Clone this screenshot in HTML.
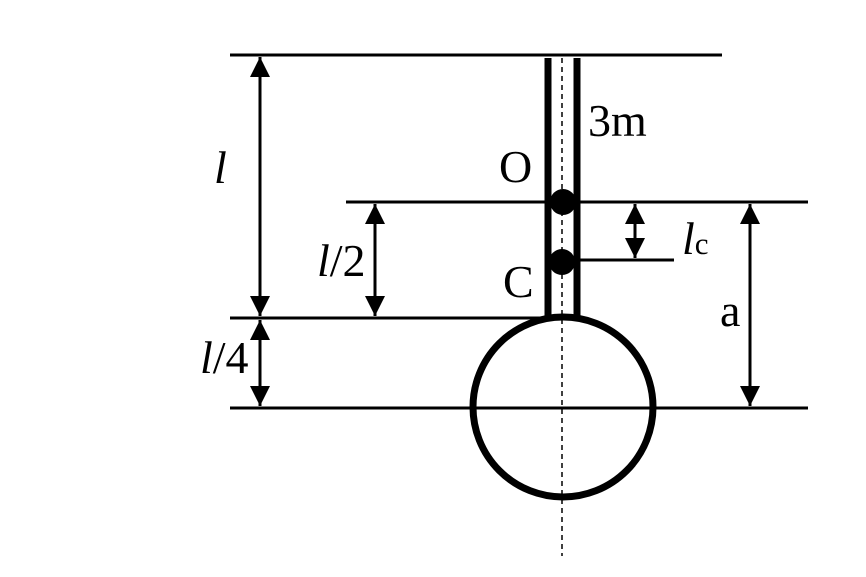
<!DOCTYPE html>
<html><head><style>html,body{margin:0;padding:0;background:#fff}svg{display:block}text{font-family:"Liberation Serif",serif;font-size:46px;fill:#000}</style></head>
<body>
<svg width="866" height="577" viewBox="0 0 866 577" xmlns="http://www.w3.org/2000/svg">
<defs>
<marker id="a" viewBox="0 0 20 20" refX="20" refY="10" markerWidth="20" markerHeight="20" markerUnits="userSpaceOnUse" orient="auto-start-reverse"><path d="M0,0 L20,10 L0,20 Z" fill="#000"/></marker>
</defs>
<g stroke="#000" stroke-width="3" fill="none">
<line x1="230" y1="55" x2="722" y2="55"/>
<line x1="346" y1="202" x2="808" y2="202"/>
<line x1="230" y1="318" x2="545" y2="318"/>
<line x1="230" y1="408" x2="808" y2="408"/>
<line x1="565" y1="260" x2="674" y2="260"/>
<line x1="260" y1="57" x2="260" y2="316" marker-start="url(#a)" marker-end="url(#a)"/>
<line x1="260" y1="320" x2="260" y2="406" marker-start="url(#a)" marker-end="url(#a)"/>
<line x1="375" y1="204" x2="375" y2="316" marker-start="url(#a)" marker-end="url(#a)"/>
<line x1="635" y1="204" x2="635" y2="258" marker-start="url(#a)" marker-end="url(#a)"/>
<line x1="750" y1="204" x2="750" y2="406" marker-start="url(#a)" marker-end="url(#a)"/>
</g>
<g stroke="#000" stroke-width="7" fill="none">
<line x1="548" y1="58" x2="548" y2="318"/>
<line x1="577" y1="58" x2="577" y2="318"/>
<circle cx="563" cy="407" r="90"/>
</g>
<line x1="562" y1="58" x2="562" y2="556" stroke="#000" stroke-width="1.5" stroke-dasharray="5,4"/>
<circle cx="563" cy="202" r="13" fill="#000"/>
<circle cx="562" cy="262" r="13" fill="#000"/>
<text x="214" y="183" font-style="italic">l</text>
<text x="588" y="136">3m</text>
<text x="499" y="182">O</text>
<text x="317" y="276"><tspan font-style="italic">l</tspan>/2</text>
<text x="503" y="297">C</text>
<text x="682" y="254" font-style="italic">l<tspan font-style="normal" font-size="31">c</tspan></text>
<text x="720" y="326">a</text>
<text x="200" y="373"><tspan font-style="italic">l</tspan>/4</text>
</svg>
</body></html>
